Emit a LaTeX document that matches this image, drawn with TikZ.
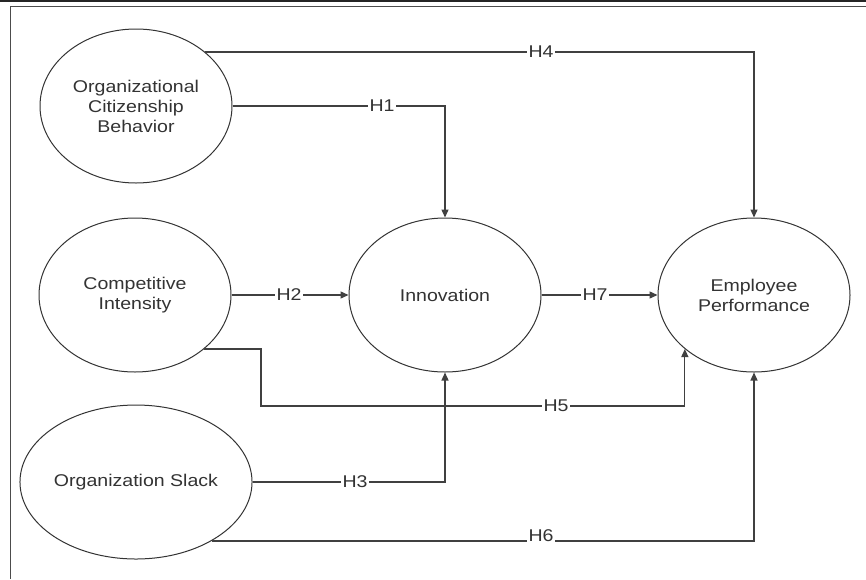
\documentclass[tikz,border=0pt]{standalone}
\usepackage{fontspec}
\newfontfamily\diagfont{Liberation Sans}[FakeStretch=1.15]
\usetikzlibrary{shapes.geometric,arrows.meta}
\begin{document}
\begin{tikzpicture}[x=1pt,y=-1pt,
  construct/.style={draw=black!80,line width=1pt,ellipse,minimum width=192pt,minimum height=154pt,inner sep=0pt,align=center,text=black!80,font=\diagfont\fontsize{17}{20}\selectfont},
  link/.style={draw=black!75,line width=1.3pt,-{Triangle[length=8pt,width=7pt]}},
  lbl/.style={fill=white,inner sep=1.5pt,text=black!80,font=\diagfont\fontsize{17}{20}\selectfont}]
\useasboundingbox[fill=white] (0,0) rectangle (866,579);
% frame
\draw[line width=2pt,black!85] (0,1) -- (866,1);
\draw[line width=1.3pt,black!70] (866,6.5) -- (10.5,6.5) -- (10.5,579);
% constructs
\node[construct] (ocb) at (136,106) {Organizational\\Citizenship\\Behavior};
\node[construct] (ci) at (135,295) {Competitive\\Intensity};
\node[construct] (os) at (136,482) {Organization Slack};
\node[construct] (inn) at (445,295) {Innovation};
\node[construct] (ep) at (754,295) {Employee\\Performance};
\coordinate (h5a) at (261,406);
% connectors
\draw[link] (ocb.38) -| (ep.north);
\draw[link] (ocb.east) -| (inn.north);
\draw[link] (ci.east) -- (inn.west);
\draw[link] (inn.east) -- (ep.west);
\draw[link] (ci.-38) -| (h5a) -| (ep.218);
\draw[link] (os.east) -| (inn.south);
\draw[link] (os.-38) -| (ep.south);
% labels
\node[lbl] (l4) at (541,52) {H4};
\node[lbl] (l1) at (382,106) {H1};
\node[lbl] (l2) at (289,295) {H2};
\node[lbl] (l7) at (595,295) {H7};
\node[lbl] (l5) at (556,406) {H5};
\node[lbl] (l3) at (355,482) {H3};
\node[lbl] (l6) at (541,536) {H6};
\end{tikzpicture}
\end{document}
